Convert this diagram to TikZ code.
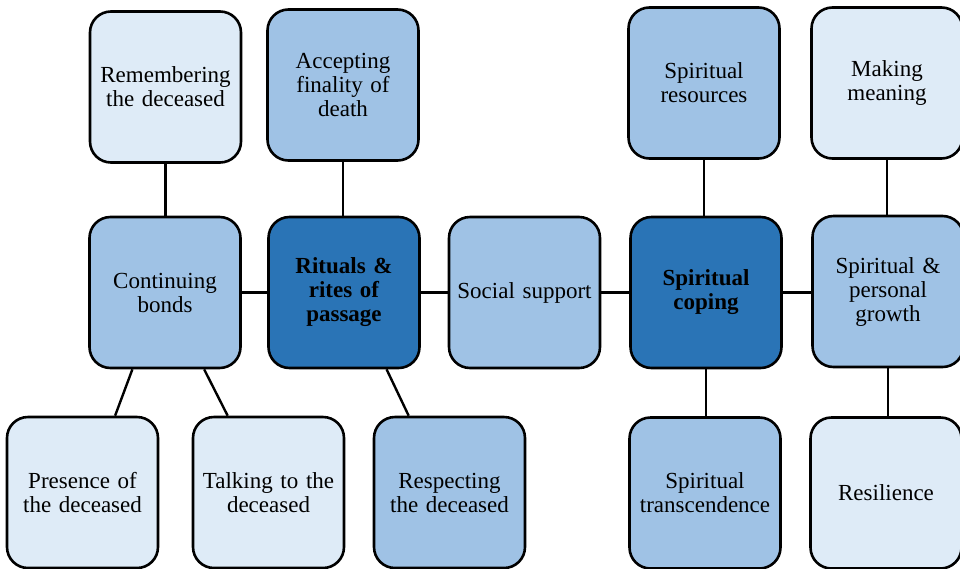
\documentclass[tikz,border=0pt]{standalone}
\usepackage{fontspec}
\setmainfont{Liberation Serif}
\definecolor{lightbox}{HTML}{DEEBF7}
\definecolor{midbox}{HTML}{9FC2E5}
\definecolor{darkbox}{HTML}{2A74B6}
\tikzset{
  box/.style={draw=black, line width=2.6pt, rounded corners=21pt, minimum width=151pt, minimum height=151pt,
    align=center, text width=145pt, inner sep=0pt, font=\fontsize{23}{24}\selectfont},
  lightb/.style={box, fill=lightbox},
  midb/.style={box, fill=midbox},
  darkb/.style={box, fill=darkbox, font=\fontsize{23}{24}\selectfont\bfseries},
  link/.style={draw=black, line width=2.4pt}
}
\begin{document}
\begin{tikzpicture}[x=1pt,y=-1pt]
\useasboundingbox (0,0) rectangle (960,568);
\clip (0,0) rectangle (960,568);
% top row
\node[lightb] (rem) at (165.5,87) {Remembering\\the deceased};
\node[midb] (acc) at (343,85) {Accepting\\finality of\\death};
\node[midb] (sres) at (704,83) {Spiritual\\resources};
\node[lightb] (mean) at (887,83) {Making\\meaning};
% middle row
\node[midb] (cont) at (165,292.5) {Continuing\\bonds};
\node[darkb] (rit) at (344,292.5) {Rituals \&\\rites of\\passage};
\node[midb] (soc) at (524.5,292.5) {Social support};
\node[darkb] (cop) at (706,292.5) {Spiritual\\coping};
\node[midb] (grow) at (888,291.5) {Spiritual \&\\personal\\growth};
% bottom row
\node[lightb] (pres) at (82.5,492.5) {Presence of\\the deceased};
\node[lightb] (talk) at (268.5,492.5) {Talking to the\\deceased};
\node[midb] (resp) at (449.5,492.5) {Respecting\\the deceased};
\node[midb] (trans) at (705,493) {Spiritual\\transcendence};
\node[lightb] (resil) at (886,493) {Resilience};
% connectors
\draw[link] (rem.south) -- (rem.south |- cont.north);
\draw[link] (acc.south) -- (acc.south |- rit.north);
\draw[link] (sres.south) -- (sres.south |- cop.north);
\draw[link] (mean.south) -- (mean.south |- grow.north);
\draw[link] (cop.south) -- (cop.south |- trans.north);
\draw[link] (grow.south) -- (grow.south |- resil.north);
\draw[link] (cont.east) -- (cont.east -| rit.west);
\draw[link] (rit.east) -- (rit.east -| soc.west);
\draw[link] (soc.east) -- (soc.east -| cop.west);
\draw[link] (cop.east) -- (cop.east -| grow.west);
\draw[link] (cont.-113) -- (pres.67);
\draw[link] (cont.-63) -- (talk.118);
\draw[link] (rit.-61.5) -- (resp.118);
\end{tikzpicture}
\end{document}
